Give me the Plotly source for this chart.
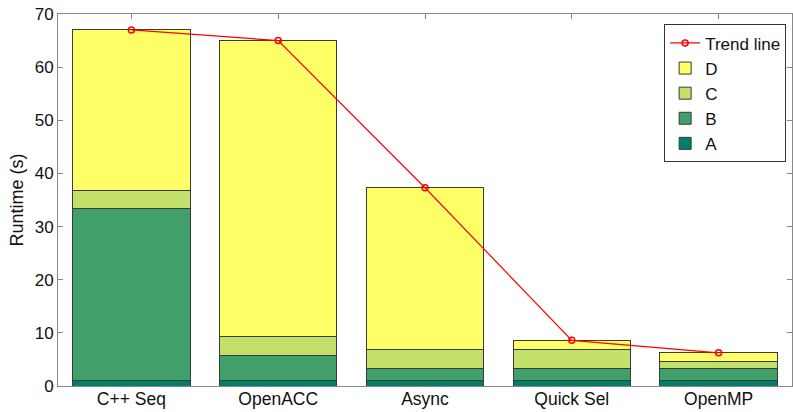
import plotly.graph_objects as go

# Runtime breakdown per implementation (seconds)
categories = ["C++ Seq", "OpenACC", "Async", "Quick Sel", "OpenMP"]
part_a = [1.0, 1.0, 1.0, 1.0, 1.0]
part_b = [32.4, 4.75, 2.3, 2.3, 2.2]
part_c = [3.4, 3.5, 3.6, 3.6, 1.45]
part_d = [30.2, 55.75, 30.4, 1.7, 1.6]
y_ticks = [0, 10, 20, 30, 40, 50, 60, 70]

totals = [a + b + c + d for a, b, c, d in zip(part_a, part_b, part_c, part_d)]

series = [
    ("A", part_a, "#00806A"),
    ("B", part_b, "#41A06A"),
    ("C", part_c, "#C2E06A"),
    ("D", part_d, "#FFFF66"),
]

font_family = "Liberation Sans, Arial, sans-serif"

fig = go.Figure()
for name, vals, color in series:
    fig.add_trace(go.Bar(
        x=categories, y=vals, name=name,
        marker=dict(color=color, line=dict(color="#3a3a3a", width=1)),
    ))

fig.add_trace(go.Scatter(
    x=categories, y=totals, name="Trend line",
    mode="lines+markers",
    line=dict(color="#FF0000", width=1.2),
    marker=dict(symbol="circle-open", size=6, color="#FF0000",
                line=dict(color="#FF0000", width=1.5)),
))

fig.update_layout(
    width=793, height=412,
    margin=dict(l=58, r=1, t=14, b=26),
    barmode="stack", bargap=0.2,
    plot_bgcolor="white", paper_bgcolor="white",
    font=dict(family=font_family, size=18, color="#111111"),
    showlegend=True,
    legend=dict(
        traceorder="reversed",
        x=0.992, xanchor="right", y=0.972, yanchor="top",
        bgcolor="white", bordercolor="#333333", borderwidth=1,
        font=dict(size=17), tracegroupgap=0, itemwidth=30,
    ),
)

fig.update_xaxes(
    range=[-0.5, 4.5], automargin=False,
    showline=True, linecolor="#888888", linewidth=1, mirror="ticks",
    ticks="inside", ticklen=5, tickcolor="#888888",
    layer="below traces", ticklabelstandoff=-3,
    tickfont=dict(size=17.5), showgrid=False,
)
fig.update_yaxes(
    range=[0, 70], tickvals=y_ticks, automargin=False,
    showline=True, linecolor="#888888", linewidth=1, mirror="ticks",
    ticks="inside", ticklen=5, tickcolor="#888888",
    tickfont=dict(size=17), showgrid=False, zeroline=False,
    title=dict(text="Runtime (s)", font=dict(size=18), standoff=6),
)

fig.write_html("out.html")
